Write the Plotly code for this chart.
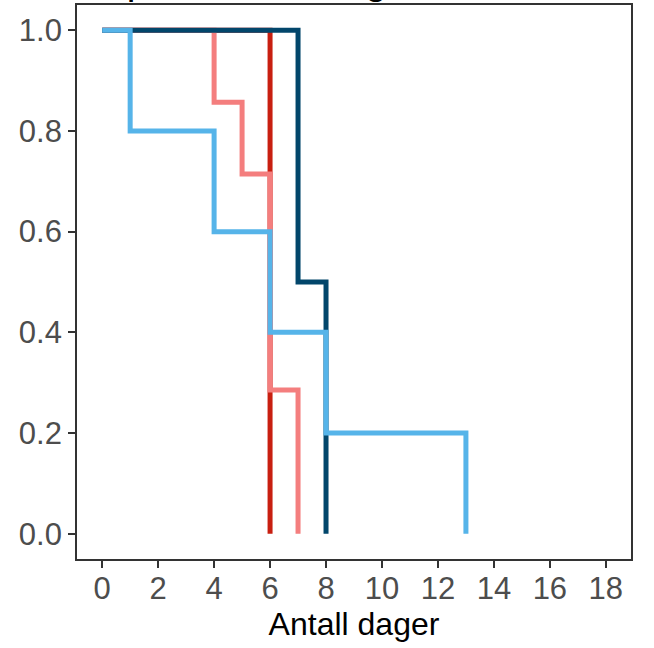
import plotly.graph_objects as go

# Kaplan-Meier step data (time in days, survival probability)
red_x = [0, 6]
red_y = [1.0, 0.0]
pink_x = [0, 4, 5, 6, 7]
pink_y = [1.0, 6/7, 5/7, 2/7, 0.0]
dark_x = [0, 7, 8]
dark_y = [1.0, 0.5, 0.0]
blue_x = [0, 1, 4, 6, 8, 13]
blue_y = [1.0, 0.8, 0.6, 0.4, 0.2, 0.0]

x_ticks = [0, 2, 4, 6, 8, 10, 12, 14, 16, 18]
y_ticks = [0.0, 0.2, 0.4, 0.6, 0.8, 1.0]
y_tick_labels = ["0.0", "0.2", "0.4", "0.6", "0.8", "1.0"]

series = [
    (red_x, red_y, "#C81F10"),
    (pink_x, pink_y, "#F47E7E"),
    (dark_x, dark_y, "#02466B"),
    (blue_x, blue_y, "#56B4E9"),
]

fig = go.Figure()
for xs, ys, col in series:
    fig.add_trace(go.Scatter(x=xs, y=ys, mode="lines", line=dict(color=col, width=5, shape="hv"),
                             showlegend=False, hoverinfo="skip"))

axis_common = dict(
    showgrid=False, zeroline=False, showline=True, mirror=True, automargin=False,
    linecolor="#333333", linewidth=1.8,
    ticks="outside", ticklen=7, tickwidth=1.5, tickcolor="#333333",
    tickfont=dict(family="Liberation Sans, Arial", size=31, color="#4D4D4D"),
)

fig.update_layout(
    width=654, height=648,
    margin=dict(l=77, r=23, t=5, b=89),
    paper_bgcolor="white", plot_bgcolor="white",
    xaxis=dict(range=[-0.9, 18.9], tickvals=x_ticks, ticklabelstandoff=-6, **axis_common,
               title=dict(text="Antall dager", font=dict(family="Liberation Sans, Arial", size=32, color="black"),
                          standoff=3)),
    yaxis=dict(range=[-0.05, 1.05], tickvals=y_ticks, ticktext=y_tick_labels, **axis_common),
    annotations=[dict(text="Kaplan-Meier dager", xref="paper", yref="paper", x=0, y=1.0,
                      xanchor="left", yanchor="bottom", showarrow=False, yshift=1,
                      font=dict(family="Liberation Sans, Arial", size=39, color="black"))],
)

fig.write_html("out.html", config={"displayModeBar": False},
               post_script="document.body.style.margin='0';document.documentElement.style.overflow='hidden';")
